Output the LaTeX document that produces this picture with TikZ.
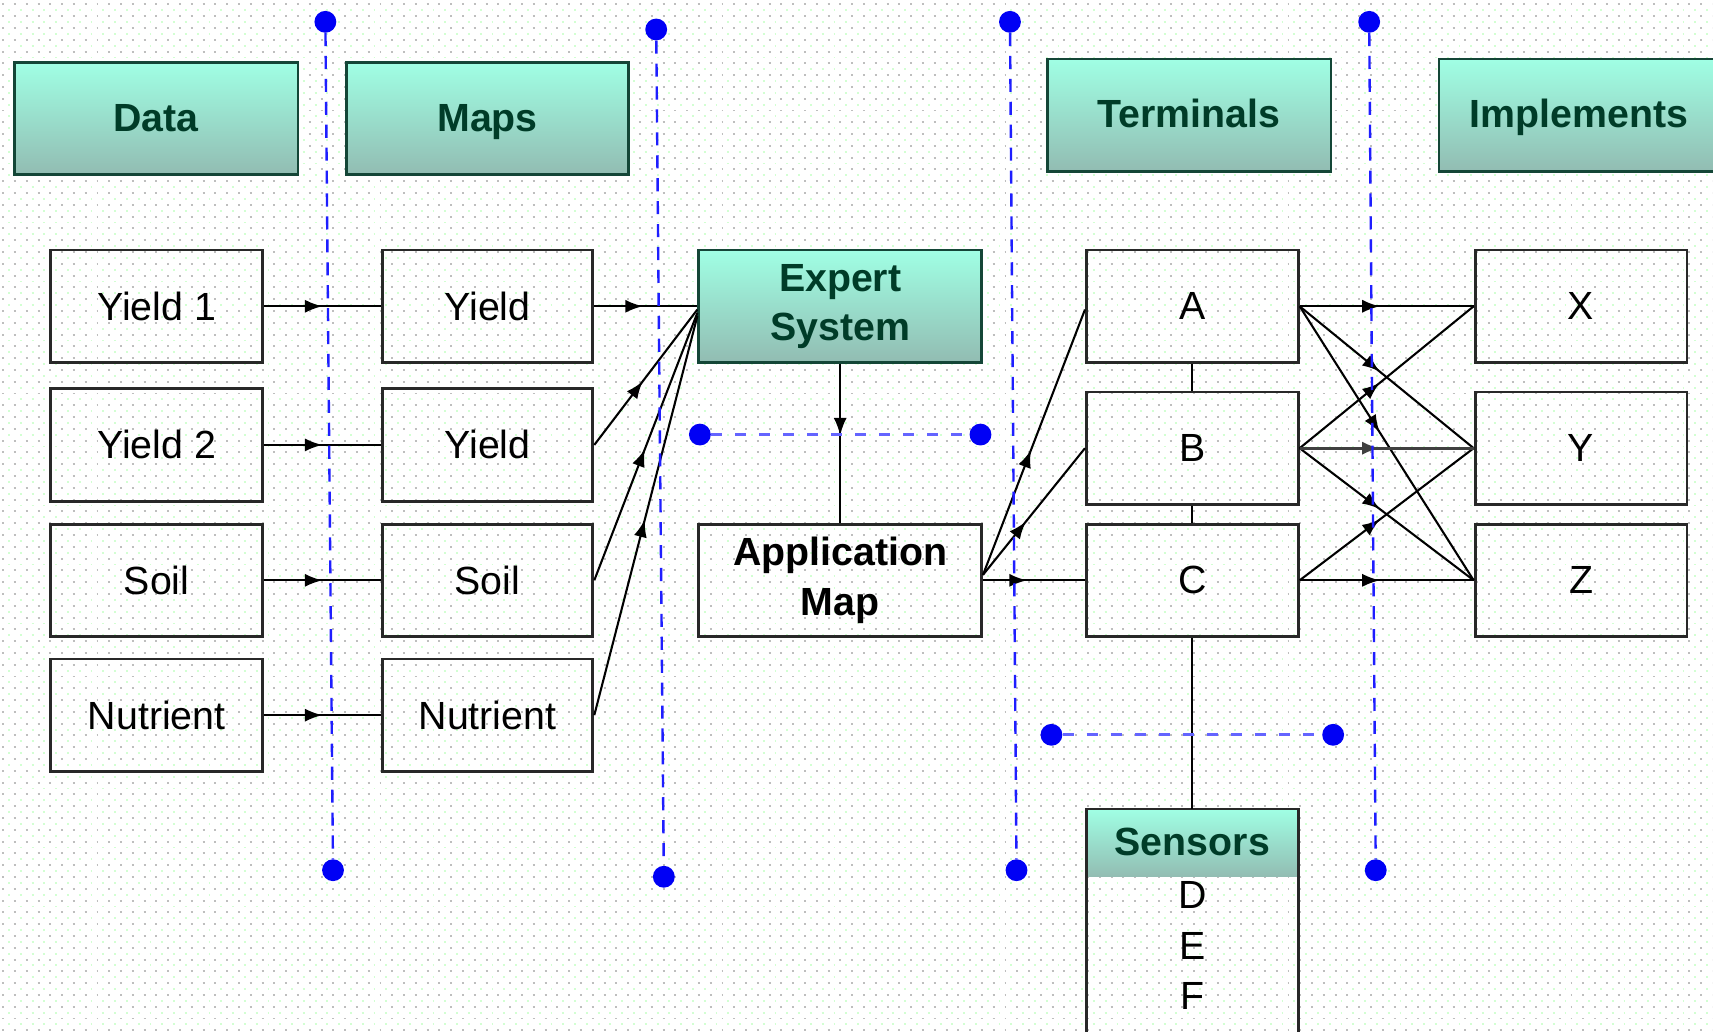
\documentclass[tikz,border=0pt]{standalone}
\usepackage{fontspec}
\setmainfont{Liberation Sans}
\usetikzlibrary{arrows.meta,decorations.markings,calc}
\definecolor{hdrtop}{RGB}{160,255,228}
\definecolor{hdrbot}{RGB}{146,188,178}
\definecolor{hdrtext}{RGB}{0,60,40}
\definecolor{hdrline}{RGB}{20,70,55}
\definecolor{boxline}{RGB}{40,40,40}
\definecolor{dotgray}{RGB}{190,190,190}
\definecolor{dotgreen}{RGB}{210,255,210}
\definecolor{guideblue}{RGB}{30,30,255}
\definecolor{guidelight}{RGB}{100,100,255}
\definecolor{pinblue}{RGB}{0,0,245}
\begin{document}
\begin{tikzpicture}[x=1pt,y=-1pt,
  every node/.style={font=\fontsize{36}{45}\selectfont, inner sep=0pt},
  plainbox/.style={draw=boxline, line width=2.6pt, minimum width=194pt, minimum height=103pt, align=center},
  hdrbox/.style={draw=hdrline, line width=2.6pt, top color=hdrtop, bottom color=hdrbot, minimum height=103pt, align=center, text=hdrtext, font=\fontsize{36}{45}\selectfont\bfseries},
  oneline/.style={text height=26pt, text depth=3pt},
  conn/.style={draw=black, line width=1.9pt},
  midarrow/.style={postaction={decorate}, decoration={markings, mark=at position #1 with {\arrow{Latex[length=16pt,width=12pt]}}}},
  guidedot/.style={circle, fill=pinblue, minimum size=20pt},
  vguide/.style={draw=guideblue, line width=2.2pt, dash pattern=on 12pt off 9pt},
  hguide/.style={draw=guidelight, line width=2.6pt, dash pattern=on 10pt off 12pt}
]
% background with dot grid
\fill[white] (0,0) rectangle (1568,944);
\foreach \yy in {4,14.8,...,944} \draw[dotgray, line width=1.8pt, dash pattern=on 1.8pt off 9pt] (2,\yy) -- (1568,\yy);
\foreach \yy in {9.4,20.2,...,944} \draw[dotgreen, line width=1.7pt, dash pattern=on 1.7pt off 9.1pt] (7.4,\yy) -- (1568,\yy);
\useasboundingbox (0,0) rectangle (1568,944);

% header boxes
\node[hdrbox, oneline, minimum width=260pt] (data) at (143,108.5) {Data};
\node[hdrbox, oneline, minimum width=259pt] (maps) at (446.5,108.5) {Maps};
\node[hdrbox, oneline, minimum width=260pt] (term) at (1089,105.5) {Terminals};
\node[hdrbox, oneline, minimum width=256pt] (impl) at (1446,105.5) {Implements};

% data column
\node[plainbox] (d1) at (143.5,280.5) {Yield 1};
\node[plainbox] (d2) at (143.5,407.5) {Yield 2};
\node[plainbox] (d3) at (143.5,531.5) {Soil};
\node[plainbox] (d4) at (143.5,655) {Nutrient};

% maps column
\node[plainbox, minimum width=193pt] (m1) at (446.5,280.5) {Yield};
\node[plainbox, minimum width=193pt] (m2) at (446.5,407.5) {Yield};
\node[plainbox, minimum width=193pt] (m3) at (446.5,531.5) {Soil};
\node[plainbox, minimum width=193pt] (m4) at (446.5,655) {Nutrient};

% expert system and application map
\node[hdrbox, minimum width=259pt] (expert) at (769.5,280.5) {Expert\\System};
\node[plainbox, minimum width=259pt, font=\fontsize{36}{45}\selectfont\bfseries] (app) at (769.5,531.5) {Application\\Map};

% terminals
\node[plainbox] (ta) at (1092,280.5) {A};
\node[plainbox] (tb) at (1092,410.5) {B};
\node[plainbox] (tc) at (1092,531.5) {C};

% implements
\node[plainbox] (ix) at (1448,280.5) {X};
\node[plainbox] (iy) at (1448,410.5) {Y};
\node[plainbox] (iz) at (1448,531.5) {Z};

% sensors
\node[top color=hdrtop, bottom color=hdrbot, oneline, minimum width=194pt, minimum height=62pt, text=hdrtext, font=\fontsize{36}{45}\selectfont\bfseries] (senshdr) at (1092,772) {Sensors};
\node[draw=boxline, line width=2.6pt, minimum width=194pt, minimum height=222pt] (sensbox) at (1092,852) {};
\node[align=center, font=\fontsize{36}{46}\selectfont] (sensitems) at (1092,866) {D\\E\\F};

% connectors data -> maps
\draw[conn, midarrow=0.5] (d1) -- (m1);
\draw[conn, midarrow=0.5] (d2) -- (m2);
\draw[conn, midarrow=0.5] (d3) -- (m3);
\draw[conn, midarrow=0.5] (d4) -- (m4);

% maps -> expert
\draw[conn, midarrow=0.47] (m1) -- (expert);
\draw[conn, midarrow=0.47] (m2.east) -- ([yshift=-3pt]expert.west);
\draw[conn, midarrow=0.49] (m3.east) -- ([yshift=-6pt]expert.west);
\draw[conn, midarrow=0.49] (m4.east) -- ([yshift=-9pt]expert.west);

% expert -> application map
\draw[conn, midarrow=0.45] (expert) -- (app);

% application map -> terminals
\draw[conn, midarrow=0.47] ([yshift=5pt]app.east) -- ([yshift=-3pt]ta.west);
\draw[conn, midarrow=0.42] ([yshift=5pt]app.east) -- (tb.west);
\draw[conn, midarrow=0.43] (app) -- (tc);

% terminal chain and sensors
\draw[conn] (ta) -- (tb);
\draw[conn] (tb) -- (tc);
\draw[conn] (tc) -- (senshdr);

% terminals -> implements
\foreach \s/\t in {ta/ix, ta/iy, ta/iz, tb/ix, tb/iz, tc/iy, tc/iz}
  \draw[conn, midarrow=0.46] (\s.east) -- (\t.west);
\draw[conn, line width=2.6pt, draw=black!75, midarrow=0.46] (tb.east) -- (iy.west);

% guide lines with end dots
\node[guidedot] (p1t) at (298,20) {};
\node[guidedot] (p1b) at (305,797) {};
\node[guidedot] (p2t) at (601,27) {};
\node[guidedot] (p2b) at (608,803) {};
\node[guidedot] (p3t) at (925,20) {};
\node[guidedot] (p3b) at (931,797) {};
\node[guidedot] (p4t) at (1254,20) {};
\node[guidedot] (p4b) at (1260,797) {};
\node[guidedot] (h1l) at (641,398) {};
\node[guidedot] (h1r) at (898,398) {};
\node[guidedot] (h2l) at (963,673) {};
\node[guidedot] (h2r) at (1221,673) {};
\draw[vguide] (p1t) -- (p1b);
\draw[vguide] (p2t) -- (p2b);
\draw[vguide] (p3t) -- (p3b);
\draw[vguide] (p4t) -- (p4b);
\draw[hguide] (h1l) -- (h1r);
\draw[hguide] (h2l) -- (h2r);
\end{tikzpicture}
\end{document}
